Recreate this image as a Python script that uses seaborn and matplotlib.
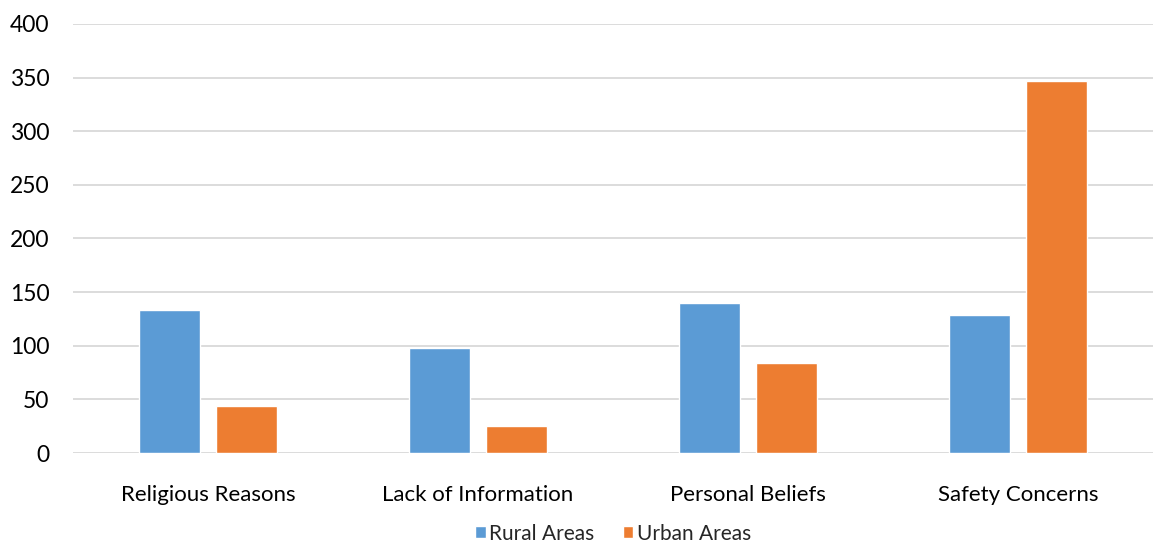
import matplotlib
matplotlib.use("Agg")
import matplotlib.pyplot as plt
import pandas as pd
import seaborn as sns

reasons = ["Religious Reasons", "Lack of Information", "Personal Beliefs", "Safety Concerns"]
rural = [133, 98, 140, 129]
urban = [44, 25, 84, 347]
groups = ["Rural Areas", "Urban Areas"]
y_ticks = [0, 50, 100, 150, 200, 250, 300, 350, 400]

df = pd.DataFrame({"reason": reasons * 2,
                   "area": [groups[0]] * 4 + [groups[1]] * 4,
                   "count": rural + urban})

sns.set_style("white")
plt.rcParams["font.family"] = ["Lato", "DejaVu Sans"]

fig = plt.figure(figsize=(11.53, 5.42), dpi=100)
ax = fig.add_axes([0.0633, 0.164, 0.9367, 0.792])

sns.barplot(data=df, x="reason", y="count", hue="area", order=reasons, hue_order=groups,
            palette=["#5B9BD5", "#ED7D31"], width=0.57, gap=0.21, ax=ax, saturation=1)

ax.set_ylim(0, 400)
ax.set_xlim(-0.5, 3.5)
ax.set_yticks(y_ticks)
ax.yaxis.grid(True, color="#D9D9D9", linewidth=1.3)
ax.set_axisbelow(True)
for s in ax.spines.values():
    s.set_visible(False)
ax.tick_params(axis="both", length=0, colors="#000000")
ax.tick_params(axis="x", pad=23, labelsize=16)
ax.tick_params(axis="y", pad=17, labelsize=16.5)
ax.set_xlabel("")
ax.set_ylabel("")

ax.legend(loc="lower center", bbox_to_anchor=(0.5, -0.255), ncol=2, frameon=False,
          fontsize=15, handlelength=0.5, handleheight=0.5, handletextpad=0.15,
          columnspacing=1.4)

fig.savefig("out.png", dpi=100)
